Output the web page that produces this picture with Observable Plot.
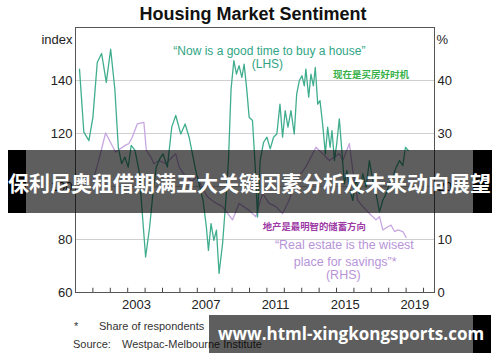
<!DOCTYPE html>
<html>
<head>
<meta charset="utf-8">
<script src="https://cdn.jsdelivr.net/npm/d3@7"></script>
<script src="https://cdn.jsdelivr.net/npm/@observablehq/plot@0.6"></script>
<style>
  html, body { margin: 0; padding: 0; background: #fff; }
  #wrap { position: relative; width: 500px; height: 362px; overflow: hidden; background: #fff; font-family: "Liberation Sans", Arial, sans-serif; }
  #title { position: absolute; left: 0; top: 5px; width: 506px; text-align: center; font-weight: bold; font-size: 18px; line-height: 18px; color: #111; }
  #chart { position: absolute; left: 0; top: 22px; }
  .foot { position: absolute; font-size: 11px; line-height: 12px; color: #333; }
  .band { position: absolute; background: rgba(0,0,0,0.63); }
  .blk { position: absolute; background: #000; }
  .btext { position: absolute; color: #fff; font-weight: bold; white-space: nowrap; }
</style>
</head>
<body>
<div id="wrap">
  <div id="title">Housing Market Sentiment</div>
  <div id="chart"></div>
  <div class="foot" style="left:74px; top:320px;">*</div>
  <div class="foot" style="left:99px; top:320px;">Share of respondents</div>
  <div class="foot" style="left:73px; top:338px;">Source:</div>
  <div class="foot" style="left:122px; top:338px;">Westpac-Melbourne Institute</div>

  <div class="blk" style="left:8px; top:150px; width:18px; height:63px;"></div>
  <div class="band" style="left:26px; top:150px; width:447px; height:63px;"></div>
  <div class="blk" style="left:473px; top:150px; width:19px; height:63px;"></div>
  <div class="btext" style="left:8px; top:170px; font-size:21px; line-height:24px; font-family:'Noto Sans CJK SC', sans-serif;">保利尼奥租借期满五大关键因素分析及未来动向展望</div>

  <div class="band" style="left:209px; top:315px; width:264px; height:38px;"></div>
  <div class="blk" style="left:473px; top:315px; width:18px; height:38px;"></div>
  <div class="btext" style="left:218px; top:323px; font-size:17px; line-height:22px; font-family:'Open Sans', sans-serif;">www.html-xingkongsports.com</div>
</div>
<script>
// "Now is a good time to buy a house" index (LHS)
const greenYears = [2000.23, 2000.48, 2000.77, 2001.0, 2001.25, 2001.5, 2001.77, 2002.02, 2002.26, 2002.46, 2002.65, 2002.84, 2003.03, 2003.2, 2003.42, 2003.65, 2003.84, 2004.03, 2004.26, 2004.45, 2004.64, 2004.84, 2005.03, 2005.28, 2005.53, 2005.76, 2006.05, 2006.3, 2006.53, 2006.72, 2006.91, 2007.1, 2007.33, 2007.52, 2007.64, 2007.79, 2007.95, 2008.1, 2008.25, 2008.45, 2008.64, 2008.79, 2008.94, 2009.1, 2009.25, 2009.4, 2009.56, 2009.69, 2009.83, 2009.98, 2010.17, 2010.33, 2010.46, 2010.61, 2010.81, 2011.0, 2011.19, 2011.38, 2011.57, 2011.75, 2011.9, 2012.05, 2012.21, 2012.38, 2012.57, 2012.71, 2012.86, 2013.01, 2013.15, 2013.24, 2013.4, 2013.53, 2013.67, 2013.78, 2013.92, 2014.05, 2014.2, 2014.36, 2014.49, 2014.63, 2014.74, 2014.88, 2015.01, 2015.16, 2015.32, 2015.45, 2015.59, 2015.74, 2015.93, 2016.12, 2016.31, 2016.51, 2016.7, 2016.89, 2017.08, 2017.27, 2017.47, 2017.66, 2017.85, 2018.04, 2018.23, 2018.43, 2018.62, 2018.81, 2018.96, 2019.12];
const greenValues = [144.3, 120.5, 117.3, 126.1, 146.8, 150.2, 139.3, 151.8, 136.8, 114.8, 108.6, 111.1, 107.3, 115.5, 113.6, 106, 89.7, 73.4, 84.7, 97.3, 107.3, 110.4, 112.3, 107.3, 122.4, 126.8, 119.8, 123.6, 118.6, 112.3, 106, 101, 94.8, 84.7, 75.9, 86, 79.7, 83.5, 67.2, 78.4, 94.8, 109.8, 136.8, 147.5, 142.4, 145.6, 141.2, 146.2, 137.4, 126.1, 124.9, 107.3, 88.5, 109.8, 116.7, 118.6, 114.2, 118.6, 119.8, 131.1, 118.6, 128.6, 122.4, 128.6, 119.8, 134.9, 139.9, 141.8, 138, 144.3, 133.7, 142.4, 138, 144.9, 131.1, 132.4, 123.6, 112.3, 122.4, 114.8, 121.1, 109.8, 116.1, 125.5, 112.3, 101, 106, 99.8, 94.8, 102.3, 97.3, 104.8, 99.8, 109.8, 102.3, 97.3, 90.4, 94.8, 97.3, 101, 103.5, 107.3, 109.8, 107.9, 114.8, 113.6];

// "Real estate is the wisest place for savings" share of respondents, % (RHS)
const purpleYears = [2001.0, 2001.3, 2001.73, 2002.3, 2002.88, 2003.07, 2003.26, 2003.55, 2003.93, 2004.07, 2004.32, 2004.51, 2004.8, 2005.18, 2005.57, 2005.76, 2005.95, 2006.3, 2006.7, 2007.0, 2007.3, 2007.6, 2008.0, 2008.45, 2009.02, 2009.4, 2009.98, 2010.36, 2010.75, 2011.13, 2011.52, 2011.9, 2012.28, 2012.67, 2013.24, 2013.82, 2014.2, 2014.59, 2015.16, 2015.36, 2015.74, 2015.93, 2016.22, 2016.51, 2016.89, 2017.27, 2017.47, 2017.66, 2017.95, 2018.14, 2018.33, 2018.52, 2018.81, 2019.0];
const purpleValues = [21, 24.5, 30.1, 26.5, 27.8, 28.1, 29.3, 31.8, 32.1, 26.8, 25.6, 24.3, 24.9, 24.3, 25.6, 26.2, 23.7, 22, 21, 22, 19.5, 18, 17, 16.2, 13.7, 16.8, 15.5, 14.3, 18.7, 16.8, 16.2, 14.9, 17.4, 21.2, 23.7, 27.4, 26.2, 24.9, 26.2, 24.9, 28.1, 23.1, 17.4, 16.2, 14.9, 13.7, 14.3, 11.8, 12.4, 12.7, 11.5, 11.8, 11.5, 10.4];

// axes
const leftTicks = [60, 80, 100, 120, 140];
const rightTicks = [0, 10, 20, 30, 40];
const gridTicks = [80, 100, 120, 140];
const yearTicks = d3.range(2001, 2021);
const yearLabels = [2003, 2007, 2011, 2015, 2019];

const green = greenYears.map((t, i) => ({t, v: greenValues[i]}));
const purple = purpleYears.map((t, i) => ({t, v: purpleValues[i]}));
const rhsToLhs = p => 60 + 2 * p;

const chart = Plot.plot({
  width: 500,
  height: 292,
  marginLeft: 75,
  marginRight: 66,
  marginTop: 5,
  marginBottom: 22,
  x: {domain: [2000, 2020.63]},
  y: {domain: [60, 160]},
  style: {fontFamily: "'Liberation Sans', Arial, sans-serif", fontSize: "13px", color: "#222", background: "transparent", overflow: "visible"},
  marks: [
    Plot.gridY(gridTicks, {stroke: "#cfcfcf", strokeOpacity: 1, strokeWidth: 1}),
    Plot.axisY(leftTicks, {anchor: "left", tickSize: 0, tickPadding: 3, label: null}),
    Plot.axisY(rightTicks.map(rhsToLhs), {anchor: "right", tickSize: 0, tickPadding: 3, label: null, tickFormat: d => (d - 60) / 2}),
    Plot.axisX(yearLabels.map(y => y + 0.5), {anchor: "bottom", tickSize: 0, tickPadding: 7, label: null, tickFormat: d => String(Math.floor(d))}),
    Plot.ruleX(yearTicks, {x: d => d, y1: 60, y2: 61.6, stroke: "#444"}),
    Plot.text(["index"], {frameAnchor: "top-left", textAnchor: "end", dx: -3, dy: 7, fontSize: 13}),
    Plot.text(["%"], {frameAnchor: "top-right", textAnchor: "start", dx: 2, dy: 7, fontSize: 13}),
    Plot.line(purple, {x: "t", y: d => rhsToLhs(d.v), stroke: "#c7a6e2", strokeWidth: 1.3}),
    Plot.line(green, {x: "t", y: "v", stroke: "#40ae8e", strokeWidth: 1.3}),
    Plot.text(["\u201CNow is a good time to buy a house\u201D"], {x: 2011.14, y: 151.2, fill: "#2fa585", fontSize: 12}),
    Plot.text(["(LHS)"], {x: 2011.03, y: 146.2, fill: "#2fa585", fontSize: 12}),
    Plot.text(["现在是买房好时机"], {x: 2016.98, y: 142, fill: "#39b14a", fontSize: 9.5, fontWeight: "bold", fontFamily: "'Noto Sans CJK SC', sans-serif"}),
    Plot.text(["地产是最明智的储蓄方向"], {x: 2013.72, y: 84.7, fill: "#9e3aa6", fontSize: 9.4, fontWeight: "bold", fontFamily: "'Noto Sans CJK SC', sans-serif"}),
    Plot.text(["\u201CReal estate is the wisest"], {x: 2015.45, y: 77.8, fill: "#b794d8", fontSize: 12.5}),
    Plot.text(["place for savings\u201D*"], {x: 2015.5, y: 71.5, fill: "#b794d8", fontSize: 12.5}),
    Plot.text(["(RHS)"], {x: 2015.39, y: 66.5, fill: "#b794d8", fontSize: 12.5}),
    Plot.frame({stroke: "#555", strokeWidth: 1})
  ]
});
document.getElementById("chart").appendChild(chart);
</script>
</body>
</html>
